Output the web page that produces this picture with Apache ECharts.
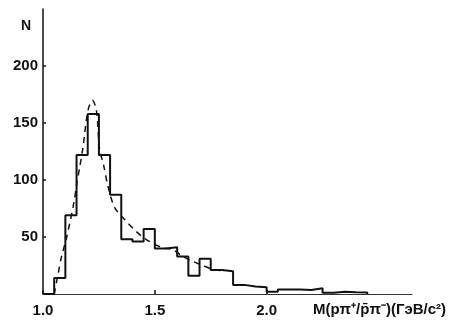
<!DOCTYPE html>
<html>
<head>
<meta charset="utf-8">
<script src="https://cdn.jsdelivr.net/npm/echarts@6/dist/echarts.min.js"></script>
<style>
  html, body { margin: 0; padding: 0; background: #ffffff; }
  #chart { width: 449px; height: 323px; }
</style>
</head>
<body>
<div id="chart"></div>
<script>
// histogram bin edges (0.05 GeV/c^2 wide)
var binEdges = [1.00, 1.05, 1.10, 1.15, 1.20, 1.25, 1.30, 1.35, 1.40, 1.45,
  1.50, 1.55, 1.60, 1.65, 1.70, 1.75, 1.80, 1.85, 1.90, 1.95,
  2.00, 2.05, 2.10, 2.15, 2.20, 2.25, 2.30, 2.35, 2.40, 2.45]
// events per bin
var counts = [0, 14, 69, 122, 158, 122, 87, 48, 46, 57,
  40, 41, 33, 16, 31, 21, 20, 8, 6.5, 6,
  2, 4, 4, 3.5, 5, 1, 2, 1.5, 1.3]

// dashed fit curve
var fitMass = [1.05, 1.067, 1.083, 1.105, 1.138, 1.152, 1.164, 1.179, 1.201, 1.221,
  1.239, 1.253, 1.271, 1.29, 1.32, 1.364, 1.416, 1.46, 1.533, 1.58,
  1.624, 1.67, 1.705, 1.772, 1.816]
var fitN = [0, 17, 33, 49, 80, 98, 111, 129, 161, 170,
  161, 127, 113, 95, 76, 65.5, 55, 48, 40.7, 39,
  33, 28.6, 25.7, 21, 20.6]

var xTicks = [1.0, 1.5, 2.0]
var yTicks = [50, 100, 150, 200]

var histData = counts.map(function(c, i) {
  return [binEdges[i], c]
})
histData.push([binEdges[binEdges.length - 1], 0])

var fitData = fitMass.map(function(m, i) {
  return [m, fitN[i]]
})

var textBase = {
  fontFamily: 'Liberation Sans',
  fontWeight: 'bold',
  color: '#111'
}

var chart = echarts.init(document.getElementById('chart'))
chart.setOption({
  backgroundColor: '#ffffff',
  animation: false,
  grid: {
    left: 43,
    top: 9,
    right: 35,
    bottom: 29
  },
  xAxis: {
    type: 'value',
    min: 1.0,
    max: 2.65,
    name: 'M(pπ⁺/p̄π⁻)(ГэВ/c²)',
    nameLocation: 'end',
    nameGap: 34,
    nameTextStyle: Object.assign({}, textBase, {
      fontSize: 15,
      align: 'right',
      verticalAlign: 'top',
      padding: [8, 0, 0, 0]
    }),
    axisLine: { lineStyle: { color: '#333', width: 1 } },
    axisTick: {
      show: true,
      inside: true,
      length: 4,
      customValues: xTicks,
      lineStyle: { color: '#111', width: 1.5 }
    },
    axisLabel: Object.assign({}, textBase, {
      customValues: xTicks,
      margin: 9,
      fontSize: 15,
      formatter: function(v) { return v.toFixed(1) }
    }),
    splitLine: { show: false }
  },
  yAxis: {
    type: 'value',
    min: 0,
    max: 250,
    name: 'N',
    nameLocation: 'end',
    nameGap: -24,
    nameTextStyle: Object.assign({}, textBase, {
      fontSize: 14,
      align: 'right',
      padding: [0, 12, 0, 0]
    }),
    axisLine: { show: true, lineStyle: { color: '#111', width: 1.5 } },
    axisTick: {
      show: true,
      inside: true,
      length: 3,
      customValues: yTicks,
      lineStyle: { color: '#111', width: 1.5 }
    },
    axisLabel: Object.assign({}, textBase, {
      customValues: yTicks,
      margin: 5,
      fontSize: 15
    }),
    splitLine: { show: false }
  },
  series: [{
    type: 'line',
    data: histData,
    step: 'end',
    symbol: 'none',
    lineStyle: { color: '#111', width: 2 }
  }, {
    type: 'line',
    data: fitData,
    smooth: 0.3,
    symbol: 'none',
    lineStyle: { color: '#111', width: 1.5, type: [6, 5] }
  }]
})
</script>
</body>
</html>
